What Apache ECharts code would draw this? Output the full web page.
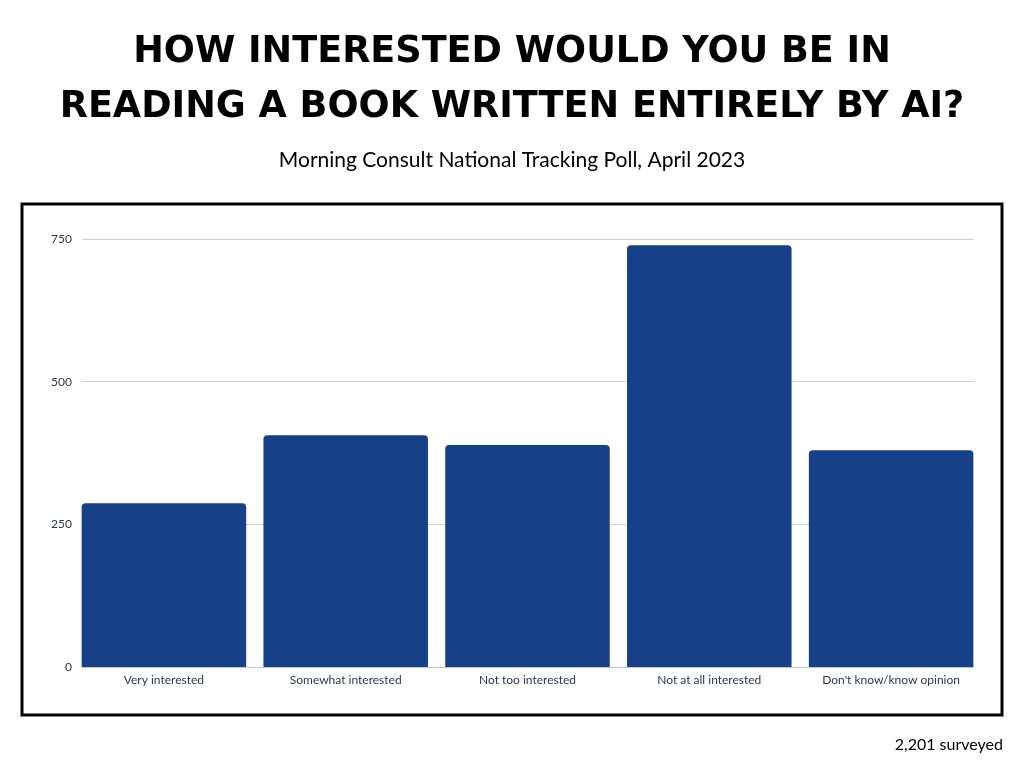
<!DOCTYPE html>
<html><head><meta charset="utf-8">
<script src="https://cdn.jsdelivr.net/npm/echarts@6/dist/echarts.min.js"></script>
<style>html,body{margin:0;padding:0;background:#fff}#c{width:1024px;height:768px}</style>
</head><body><div id="c"></div>
<script>
var categories = ["Very interested", "Somewhat interested", "Not too interested", "Not at all interested", "Don't know/know opinion"];
var values = [287, 406, 389, 739, 380];
var yTicks = [0, 250, 500, 750];

var chart = echarts.init(document.getElementById('c'), null, {renderer: 'canvas'});
var yMin = yTicks[0], yMax = yTicks[yTicks.length-1];
chart.setOption({
  backgroundColor: '#ffffff',
  animation: false,
  title: [
    {text: 'HOW INTERESTED WOULD YOU BE IN\nREADING A BOOK WRITTEN ENTIRELY BY AI?', left: 'center', top: 25, padding: 0,
     textStyle: {fontFamily: 'DejaVu Sans', fontWeight: 'bold', fontSize: 36.6, lineHeight: 55, color: '#000'}},
    {text: 'Morning Consult National Tracking Poll, April 2023', left: 'center', top: 150, padding: 0,
     textStyle: {fontFamily: 'Lato', fontWeight: 400, fontSize: 21, color: '#000'}},
    {text: '2,201 surveyed', right: 21, top: 737, padding: 0,
     textStyle: {fontFamily: 'Lato', fontWeight: 400, fontSize: 16, color: '#000'}}
  ],
  graphic: [{type: 'rect', shape: {x: 22, y: 204, width: 980, height: 511},
    style: {fill: 'none', stroke: '#000', lineWidth: 3}, z: 0}],
  grid: [
    {left: 82, right: 50, top: 239, bottom: 101, containLabel: false},
    {left: 73, right: 42, top: 239, bottom: 101, containLabel: false}
  ],
  xAxis: [
    {type: 'value', gridIndex: 0, min: 0, max: 1, axisLabel: {show: false}, splitLine: {show: false},
     axisTick: {show: false}, axisLine: {show: true, onZero: false, lineStyle: {color: '#b8c4cf', width: 1}}},
    {type: 'category', gridIndex: 1, data: categories,
     axisLine: {show: false}, axisTick: {show: false},
     axisLabel: {color: '#2b3848', fontSize: 12, fontFamily: 'Lato', margin: 7}}
  ],
  yAxis: [
    {type: 'value', gridIndex: 0, min: yMin, max: yMax, interval: 250,
     axisLine: {show: false}, axisTick: {show: false},
     splitLine: {lineStyle: {color: '#cfd3d6', width: 1}},
     axisLabel: {color: '#2b3848', fontSize: 12, fontFamily: 'Lato', margin: 10}},
    {type: 'value', gridIndex: 1, min: yMin, max: yMax, interval: 250, show: false}
  ],
  series: [{type: 'bar', xAxisIndex: 1, yAxisIndex: 1, data: values, barCategoryGap: '9.5%',
    itemStyle: {color: '#164188', borderRadius: [4, 4, 0, 0]}}]
});
</script></body></html>
